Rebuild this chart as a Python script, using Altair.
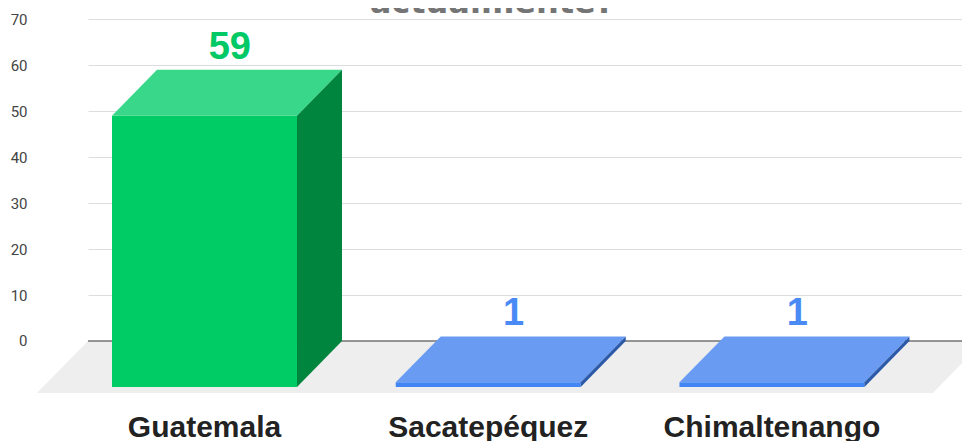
import altair as alt
import pandas as pd

# ---- data ----
categories = ["Guatemala", "Sacatepéquez", "Chimaltenango"]
values = [59, 1, 1]
front_colors = ["#00cc66", "#4285f4", "#4285f4"]
top_colors = ["#38d789", "#699bf2", "#699bf2"]
side_colors = ["#00853f", "#2c5aa8", "#2c5aa8"]
label_colors = ["#00c965", "#4a8af4", "#4a8af4"]
y_ticks = [0, 10, 20, 30, 40, 50, 60, 70]
title_text = "actualmente?"

# ---- geometry (in scale units) ----
XDOM = [-0.4106, 2.698]
YDOM = [-21.76, 72.45]
HALF_W = 0.326      # half bar width
DX = 0.1586         # depth offset in x
DY = 10.0           # depth offset in value units
FLOOR_DX = 0.18
FLOOR_DY = 11.3
FLOOR_RIGHT = 2.567

W, H = 882, 433

front_rows, top_rows, side_rows, lab_rows, cat_rows = [], [], [], [], []
for i, (c, v) in enumerate(zip(categories, values)):
    x0, x1 = i - HALF_W, i + HALF_W
    front_rows.append(dict(cat=c, x=x0, x2=x1, y=v - DY, y2=-DY, color=front_colors[i]))
    for xx, yt, yb in [(x0, v - DY, v - DY), (x0 + DX, v, v - DY), (x1, v, v - DY), (x1 + DX, v, v)]:
        top_rows.append(dict(cat=c, x=xx, y=yt, y2=yb, color=top_colors[i]))
    for xx, yt, yb in [(x1, v - DY, -DY), (x1 + DX, v, 0)]:
        side_rows.append(dict(cat=c, x=xx, y=yt, y2=yb, color=side_colors[i]))
    lab_rows.append(dict(cat=c, x=i + DX / 2 + 0.01, y=v, label=str(v), color=label_colors[i]))
    cat_rows.append(dict(cat=c, x=i, y=-20.89))

front_df = pd.DataFrame(front_rows)
top_df = pd.DataFrame(top_rows)
side_df = pd.DataFrame(side_rows)
lab_df = pd.DataFrame(lab_rows)
cat_df = pd.DataFrame(cat_rows)

floor_df = pd.DataFrame([
    dict(x=XDOM[0] - FLOOR_DX, y=-FLOOR_DY, y2=-FLOOR_DY),
    dict(x=XDOM[0], y=0, y2=-FLOOR_DY),
    dict(x=FLOOR_RIGHT, y=0, y2=-FLOOR_DY),
    dict(x=FLOOR_RIGHT + FLOOR_DX, y=0, y2=0),
])
zero_df = pd.DataFrame([dict(x=XDOM[0], x2=XDOM[1] + 0.2, y=0)])
title_df = pd.DataFrame([dict(x=1.0134, y=71.45, t=title_text)])

xs = alt.Scale(domain=XDOM, nice=False, zero=False)
ys = alt.Scale(domain=YDOM, nice=False, zero=False)
yaxis = alt.Axis(values=y_ticks, grid=True, gridColor="#dddddd", gridWidth=1,
                 domain=False, ticks=False, tickSize=0, labelPadding=61,
                 labelFont="Roboto", labelFontSize=15, labelColor="#444444",
                 title=None)

def X(f="x"):
    return alt.X(f"{f}:Q", scale=xs, axis=None)

def Y(f="y"):
    return alt.Y(f"{f}:Q", scale=ys, axis=yaxis, stack=None)

floor = alt.Chart(floor_df).mark_area(orient="vertical", color="#eeeeee").encode(
    x=X(), y=Y(), y2="y2:Q")

zero = alt.Chart(zero_df).mark_rule(color="#333333", strokeWidth=1).encode(
    x=X(), x2="x2:Q", y=Y())

front = alt.Chart(front_df).mark_rect().encode(
    x=X(), x2="x2:Q", y=Y(), y2="y2:Q", color=alt.Color("color:N", scale=None))

top = alt.Chart(top_df).mark_area(orient="vertical").encode(
    x=X(), y=Y(), y2="y2:Q", color=alt.Color("color:N", scale=None), detail="cat:N")

side = alt.Chart(side_df).mark_area(orient="vertical").encode(
    x=X(), y=Y(), y2="y2:Q", color=alt.Color("color:N", scale=None), detail="cat:N")

labels = alt.Chart(lab_df).mark_text(font="Liberation Sans", fontSize=38, fontWeight="bold",
                                     baseline="alphabetic", align="center", dy=-11).encode(
    x=X(), y=Y(), text="label:N", color=alt.Color("color:N", scale=None))

cats = alt.Chart(cat_df).mark_text(font="Liberation Sans", fontSize=30, fontWeight="bold",
                                   baseline="alphabetic", align="center", color="#222222").encode(
    x=X(), y=Y(), text="cat:N")

title = alt.Chart(title_df).mark_text(font="DejaVu Sans", fontSize=32, fontWeight="bold",
                                      baseline="alphabetic", align="center", color="#757575").encode(
    x=X(), y=Y(), text="t:N")

chart = alt.layer(floor, zero, front, top, side, labels, cats, title).properties(
    width=W, height=H, autosize="none",
    padding={"left": 80, "top": 0, "right": -8, "bottom": 0},
    background="white",
).configure_view(stroke=None)

chart.save("out.html", embed_options={"renderer": "svg", "actions": False})
